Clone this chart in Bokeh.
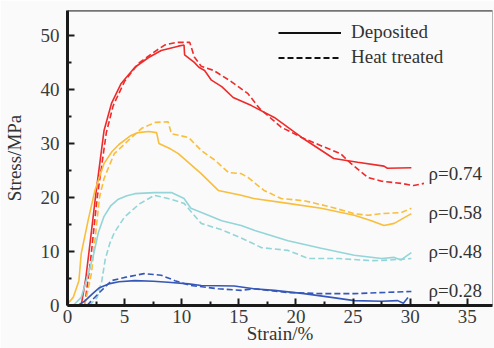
import numpy as np
from bokeh.plotting import figure
from bokeh.models import (Range1d, FixedTicker, Span, Legend, LegendItem, Label,
                          ColumnDataSource)
from bokeh.embed import file_html
from bokeh.resources import INLINE

# ---------------- data ----------------
x_ticks = [0, 5, 10, 15, 20, 25, 30, 35]
x_minor = [2.5, 7.5, 12.5, 17.5, 22.5, 27.5, 32.5]
y_ticks = [0, 10, 20, 30, 40, 50]
y_minor = [5, 15, 25, 35, 45]

red_dep_x = [1.2, 1.6, 2.0, 2.5, 3.2, 3.85, 4.7, 5.9, 7.1, 8.2, 9.7, 10.2, 10.25, 11.1, 11.5,
             12.0, 12.6, 13.5, 14.5, 16.1, 18.1, 20.5, 23.3, 25.4, 27.7, 28.0, 30.1]
red_dep_y = [0, 5, 12, 21, 32.4, 37.4, 41.1, 44.1, 45.9, 47.2, 48.0, 48.2, 46.4, 45.0, 44.1,
             43.5, 41.7, 40.5, 38.5, 37.0, 34.8, 31.1, 27.2, 26.5, 25.8, 25.4, 25.5]
red_ht_x = [1.5, 2.0, 2.6, 3.4, 4.0, 5.0, 6.2, 7.5, 8.5, 9.5, 10.7, 11.1, 11.7, 12.8, 14.3,
            15.8, 16.8, 18.7, 20.5, 22.5, 23.9, 24.8, 26.3, 27.5, 29.2, 30.3, 31.2]
red_ht_y = [0, 8, 20, 32, 37, 41.5, 44.8, 46.8, 48.2, 48.7, 48.7, 46.0, 44.3, 43.5, 41.5,
            39.2, 36.5, 33.0, 31.1, 29.3, 28.1, 26.3, 23.7, 23.0, 22.6, 22.2, 22.6]

orange_dep_x = [0.0, 0.5, 1.0, 1.2, 1.8, 2.4, 3.2, 3.9, 4.5, 5.5, 6.2, 7.1, 7.8, 8.0, 9.0,
                9.7, 11.7, 13.2, 15.2, 16.3, 19.3, 22.2, 25.1, 26.6, 27.7, 28.6, 30.1]
orange_dep_y = [0.3, 1.5, 4.6, 9.6, 15.7, 21.3, 26.3, 28.5, 29.8, 31.4, 32.0, 32.2, 32.0, 30.0, 29.0,
                28.1, 24.4, 21.3, 20.4, 19.8, 18.9, 18.0, 16.7, 15.7, 14.8, 15.2, 17.0]
orange_ht_x = [1.5, 2.1, 2.5, 2.8, 3.2, 3.6, 4.1, 5.3, 6.5, 7.7, 8.8, 9.1, 10.6, 11.7, 12.9,
               14.1, 15.2, 15.8, 17.2, 18.7, 20.7, 23.1, 25.1, 26.3, 27.5, 29.2, 30.1]
orange_ht_y = [0, 6, 14, 20, 23.5, 25.6, 28.1, 30.5, 32.8, 33.9, 34.0, 31.8, 31.1, 28.7, 26.9,
               24.6, 24.4, 23.7, 21.3, 19.8, 19.4, 18.2, 17.0, 16.7, 17.0, 17.2, 18.0]

cyan_dep_x = [0.5, 1.2, 1.7, 2.3, 2.7, 3.2, 3.8, 4.4, 5.2, 5.9, 7.6, 9.1, 10.2, 10.8, 12.0, 13.5,
              15.2, 16.4, 19.3, 22.2, 25.1, 27.5, 28.6, 29.2, 29.5, 30.1]
cyan_dep_y = [0, 1.5, 5, 9.6, 13.5, 16.5, 18.5, 19.6, 20.3, 20.7, 20.9, 20.9, 19.8, 18.0, 17.0, 15.7,
              14.8, 13.9, 12.0, 10.6, 9.3, 8.7, 8.9, 8.4, 8.9, 9.8]
cyan_ht_x = [1.9, 2.6, 3.0, 3.3, 3.7, 4.1, 5.0, 6.3, 7.6, 8.8, 10.2, 11.7, 13.5, 15.2, 17.0,
             19.3, 21.1, 23.7, 26.6, 28.1, 30.1]
cyan_ht_y = [0, 1.5, 4.5, 8.5, 11.5, 13.5, 16.4, 18.8, 20.4, 19.8, 18.9, 15.2, 14.0, 12.5, 10.7,
             10.2, 8.7, 8.7, 8.3, 8.4, 8.7]

blue_dep_x = [0.9, 1.5, 2.2, 2.8, 3.6, 4.5, 5.9, 7.5, 8.8, 10.6, 11.7, 14.6, 16.3, 18.1, 20.7,
              23.1, 25.1, 27.5, 28.9, 29.4, 29.8]
blue_dep_y = [0, 0.8, 2.2, 3.3, 4.0, 4.4, 4.6, 4.5, 4.3, 4.0, 3.7, 3.6, 3.1, 2.8, 2.2,
              1.5, 0.9, 0.8, 0.9, 0.4, 1.5]
blue_ht_x = [1.7, 2.7, 3.85, 5.0, 6.7, 8.2, 9.4, 10.8, 13.2, 15.2, 16.3, 19.3, 22.2, 25.1, 30.1]
blue_ht_y = [0, 2.2, 4.6, 5.2, 5.9, 5.6, 4.6, 3.7, 3.1, 2.8, 3.1, 2.4, 2.2, 2.2, 2.6]

rho_labels = ["ρ=0.74", "ρ=0.58", "ρ=0.48", "ρ=0.28"]
rho_y = [24.4, 17.2, 10.0, 2.8]
legend_labels = ["Deposited", "Heat treated"]

RED, ORANGE, CYAN, BLUE = "#ee2b2b", "#f8be3c", "#93d5d8", "#3557b8"
DASH = "6 3"
BG = "#fafafa"
SERIF = "Liberation Serif"

p = figure(width=494, height=348, x_range=Range1d(0, 37.2), y_range=Range1d(0, 54.6),
           output_backend="svg", toolbar_location=None,
           min_border_left=66, min_border_right=2, min_border_top=10, min_border_bottom=43,
           background_fill_color=BG, border_fill_color=BG)
p.grid.visible = False
p.outline_line_color = "#b5b5b5"
p.outline_line_width = 1

series = [
    (red_dep_x, red_dep_y, RED, "solid"), (red_ht_x, red_ht_y, RED, DASH),
    (orange_dep_x, orange_dep_y, ORANGE, "solid"), (orange_ht_x, orange_ht_y, ORANGE, DASH),
    (cyan_dep_x, cyan_dep_y, CYAN, "solid"), (cyan_ht_x, cyan_ht_y, CYAN, DASH),
    (blue_dep_x, blue_dep_y, BLUE, "solid"), (blue_ht_x, blue_ht_y, BLUE, DASH),
]
for xs, ys, c, d in series:
    p.line(xs, ys, line_color=c, line_width=1.6, line_dash=d)

# axes styling
for ax in (p.xaxis[0], p.yaxis[0]):
    ax.axis_line_width = 3
    ax.axis_line_color = "#1a1a1a"
    ax.major_tick_in = 7
    ax.major_tick_out = 0
    ax.minor_tick_in = 4
    ax.minor_tick_out = 0
    ax.major_tick_line_width = 2
    ax.minor_tick_line_width = 2
    ax.major_tick_line_color = "#1a1a1a"
    ax.minor_tick_line_color = "#1a1a1a"
    ax.major_label_text_font = SERIF
    ax.major_label_text_font_size = "19px"
    ax.major_label_text_color = "#3a3a3a"
    ax.axis_label_text_font = SERIF
    ax.axis_label_text_font_size = "19px"
    ax.axis_label_text_font_style = "normal"
    ax.axis_label_text_color = "#333333"

p.xaxis.ticker = FixedTicker(ticks=x_ticks, minor_ticks=x_minor)
p.yaxis.ticker = FixedTicker(ticks=y_ticks, minor_ticks=y_minor)
p.xaxis.axis_label = "Strain/%"
p.yaxis.axis_label = "Stress/MPa"
p.xaxis.major_label_standoff = 4
p.xaxis.axis_label_standoff = -3
p.yaxis.major_label_standoff = 8
p.yaxis.axis_label_standoff = 13

# top border
p.add_layout(Span(location=54.6, dimension="width", line_color="#333333", line_width=2))

# legend (black samples; helper renderers hold no visible points)
src_empty = ColumnDataSource(data=dict(x=np.array([np.nan, np.nan]), y=np.array([np.nan, np.nan])))
r1 = p.line("x", "y", source=src_empty, line_color="#111111", line_width=2)
r2 = p.line("x", "y", source=src_empty, line_color="#111111", line_width=2, line_dash=DASH)
legend = Legend(items=[LegendItem(label=legend_labels[0], renderers=[r1]),
                       LegendItem(label=legend_labels[1], renderers=[r2])],
                location=(211, 237), orientation="vertical",
                glyph_width=63, glyph_height=21, label_height=21, label_standoff=10,
                spacing=3, padding=0, margin=0,
                background_fill_alpha=0, border_line_color=None,
                label_text_font=SERIF, label_text_font_size="19px",
                label_text_color="#333333")
p.add_layout(legend)

for t, yv in zip(rho_labels, rho_y):
    p.add_layout(Label(x=31.6, y=yv, text=t, text_baseline="middle",
                       text_font=SERIF, text_font_size="19px",
                       text_color="#333333"))

open("out.html", "w").write(file_html(p, INLINE))
